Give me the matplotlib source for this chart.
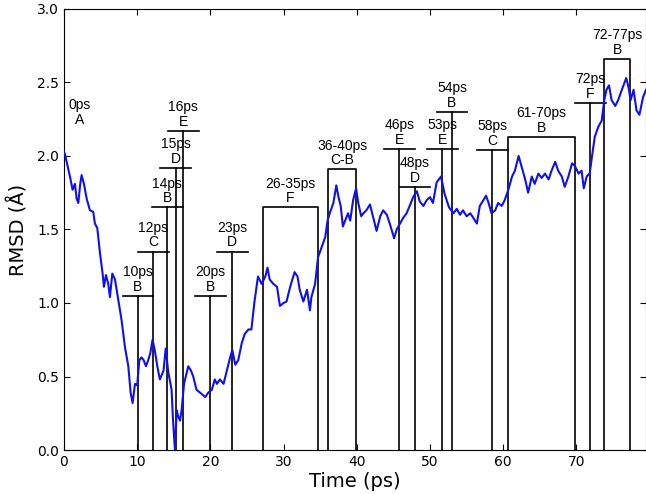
import numpy as np
import matplotlib
matplotlib.use('Agg')
import matplotlib.pyplot as plt

# --- data ---
time_ps = [0.0, 0.14, 0.5, 0.82, 1.18, 1.5, 1.73, 1.96, 2.2, 2.41, 2.73, 3.1, 3.55, 4.0,
           4.23, 4.55, 4.92, 5.28, 5.46, 5.74, 6.05, 6.28, 6.6, 6.97, 7.42, 7.88, 8.33,
           8.79, 9.11, 9.38, 9.7, 10.0, 10.29, 10.6, 10.9, 11.2, 11.5, 11.8, 12.1, 12.4,
           12.75, 13.1, 13.6, 13.9, 14.25, 14.7, 14.9, 15.16, 15.4, 15.6, 15.85, 16.07,
           16.4, 16.98, 17.35, 17.66, 18.1, 18.6, 19.3, 19.7, 20.2, 20.6, 20.9, 21.3,
           21.8, 22.2, 22.7, 23.0, 23.4, 23.8, 24.3, 24.7, 25.2, 25.6, 26.0, 26.5, 27.0,
           27.5, 27.8, 28.1, 28.6, 29.1, 29.5, 30.0, 30.4, 30.9, 31.5, 31.9, 32.2, 32.7,
           33.2, 33.6, 33.8, 34.3, 34.7, 35.2, 35.7, 36.0, 36.3, 36.8, 37.2, 37.5, 37.8,
           38.1, 38.4, 38.8, 39.1, 39.5, 39.9, 40.2, 40.6, 40.9, 41.3, 41.8, 42.2, 42.7,
           43.2, 43.6, 44.1, 44.5, 45.1, 45.45, 45.9, 46.35, 46.8, 47.3, 47.7, 48.2,
           48.6, 49.1, 49.55, 50.0, 50.4, 50.9, 51.5, 52.0, 52.6, 53.2, 53.65, 54.1,
           54.5, 55.0, 55.5, 55.9, 56.4, 56.8, 57.3, 57.65, 58.0, 58.4, 58.9, 59.3, 59.8,
           60.2, 60.7, 61.2, 61.6, 62.1, 62.5, 63.0, 63.4, 63.9, 64.3, 64.8, 65.25, 65.7,
           66.2, 66.6, 67.1, 67.5, 68.0, 68.4, 68.9, 69.4, 69.8, 70.3, 70.7, 71.0, 71.4,
           71.8, 72.2, 72.5, 73.0, 73.45, 73.8, 74.1, 74.45, 74.8, 75.3, 75.7, 76.2,
           76.8, 77.1, 77.4, 77.8, 78.2, 78.6, 79.1, 79.5]
rmsd = [2.03, 2.01, 1.93, 1.86, 1.77, 1.81, 1.71, 1.68, 1.80, 1.87, 1.81, 1.71, 1.63, 1.62,
        1.54, 1.51, 1.34, 1.20, 1.11, 1.19, 1.13, 1.04, 1.20, 1.16, 1.02, 0.88, 0.70,
        0.57, 0.39, 0.32, 0.45, 0.44, 0.61, 0.63, 0.61, 0.57, 0.61, 0.66, 0.75, 0.68,
        0.57, 0.48, 0.54, 0.69, 0.53, 0.41, 0.20, 0.0, 0.27, 0.23, 0.20, 0.27,
        0.45, 0.57, 0.54, 0.50, 0.41, 0.39, 0.36, 0.39, 0.41, 0.48, 0.45, 0.48,
        0.45, 0.53, 0.63, 0.68, 0.58, 0.61, 0.73, 0.79, 0.82, 0.82, 1.00, 1.18, 1.13,
        1.18, 1.24, 1.16, 1.13, 1.11, 0.98, 1.00, 1.01, 1.11, 1.21, 1.18, 1.09, 1.01,
        1.09, 0.95, 1.04, 1.13, 1.31, 1.38, 1.45, 1.56, 1.61, 1.68, 1.80, 1.72, 1.66,
        1.52, 1.56, 1.61, 1.56, 1.70, 1.78, 1.68, 1.59, 1.61, 1.63, 1.67, 1.59, 1.49,
        1.59, 1.63, 1.60, 1.54, 1.44, 1.50, 1.54, 1.58, 1.61, 1.67, 1.72, 1.76,
        1.69, 1.66, 1.70, 1.72, 1.68, 1.82, 1.86, 1.74, 1.65, 1.61, 1.64, 1.60,
        1.63, 1.59, 1.61, 1.58, 1.54, 1.66, 1.70, 1.73, 1.68, 1.61, 1.63, 1.68, 1.66,
        1.70, 1.77, 1.86, 1.90, 2.00, 1.93, 1.84, 1.75, 1.86, 1.81, 1.88, 1.85, 1.88,
        1.84, 1.90, 1.96, 1.90, 1.86, 1.79, 1.86, 1.95, 1.93, 1.88, 1.90, 1.78, 1.86,
        1.88, 2.02, 2.13, 2.20, 2.24, 2.38, 2.45, 2.48, 2.38, 2.34, 2.38, 2.45,
        2.53, 2.47, 2.38, 2.45, 2.31, 2.28, 2.40, 2.45]

# single snapshots: position, bar height, label
snap_pos = [10.1, 12.2, 14.1, 15.25, 16.3, 20.0, 23.0, 45.8, 47.95, 51.7, 53.0, 58.5, 71.9]
snap_h = [1.05, 1.35, 1.65, 1.92, 2.17, 1.05, 1.35, 2.05, 1.79, 2.05, 2.30, 2.04, 2.36]
snap_lbl = ['10ps\nB', '12ps\nC', '14ps\nB', '15ps\nD', '16ps\nE', '20ps\nB', '23ps\nD',
            '46ps\nE', '48ps\nD', '53ps\nE', '54ps\nB', '58ps\nC', '72ps\nF']

# time windows: start, end, height, label
win_start = [27.2, 36.1, 60.7, 73.8]
win_end = [34.7, 39.9, 69.8, 77.3]
win_h = [1.65, 1.91, 2.13, 2.66]
win_lbl = ['26-35ps\nF', '36-40ps\nC-B', '61-70ps\nB', '72-77ps\nB']

fig = plt.figure(figsize=(6.46, 4.94), dpi=100)
ax = fig.add_axes([0.099, 0.089, 0.901, 0.893])

lab_font = dict(family='Liberation Sans', fontsize=10, ha='center', va='bottom',
                linespacing=1.05)
half = 2.1

for x, h, s in zip(snap_pos, snap_h, snap_lbl):
    ax.plot([x, x], [0, h], color='black', lw=1.2)
    ax.plot([x - half, x + half], [h, h], color='black', lw=1.2)
    ax.annotate(s, (x, h), xytext=(0, 1.5), textcoords='offset points', **lab_font)

for a, b, h, s in zip(win_start, win_end, win_h, win_lbl):
    ax.plot([a, a, b, b], [0, h, h, 0], color='black', lw=1.2)
    ax.annotate(s, ((a + b) / 2, h), xytext=(0, 1.5), textcoords='offset points', **lab_font)

ax.text(2.2, 2.2, '0ps\nA', **lab_font)

ax.plot(time_ps, rmsd, color='#1010ee', lw=1.5, zorder=5)

ax.set_xlim(0, 79.5)
ax.set_ylim(0, 3.0)
ax.set_xticks(np.arange(0, 80, 10))
ax.set_yticks(np.arange(0, 3.01, 0.5))
ax.set_yticklabels(['%.1f' % v for v in np.arange(0, 3.01, 0.5)])
ax.tick_params(direction='in', top=True, right=True, length=4, labelsize=10)
ax.set_xlabel('Time (ps)', fontsize=14, labelpad=2)
ax.set_ylabel('RMSD (Å)', fontsize=14, labelpad=6)

fig.savefig('out.png', dpi=100)
